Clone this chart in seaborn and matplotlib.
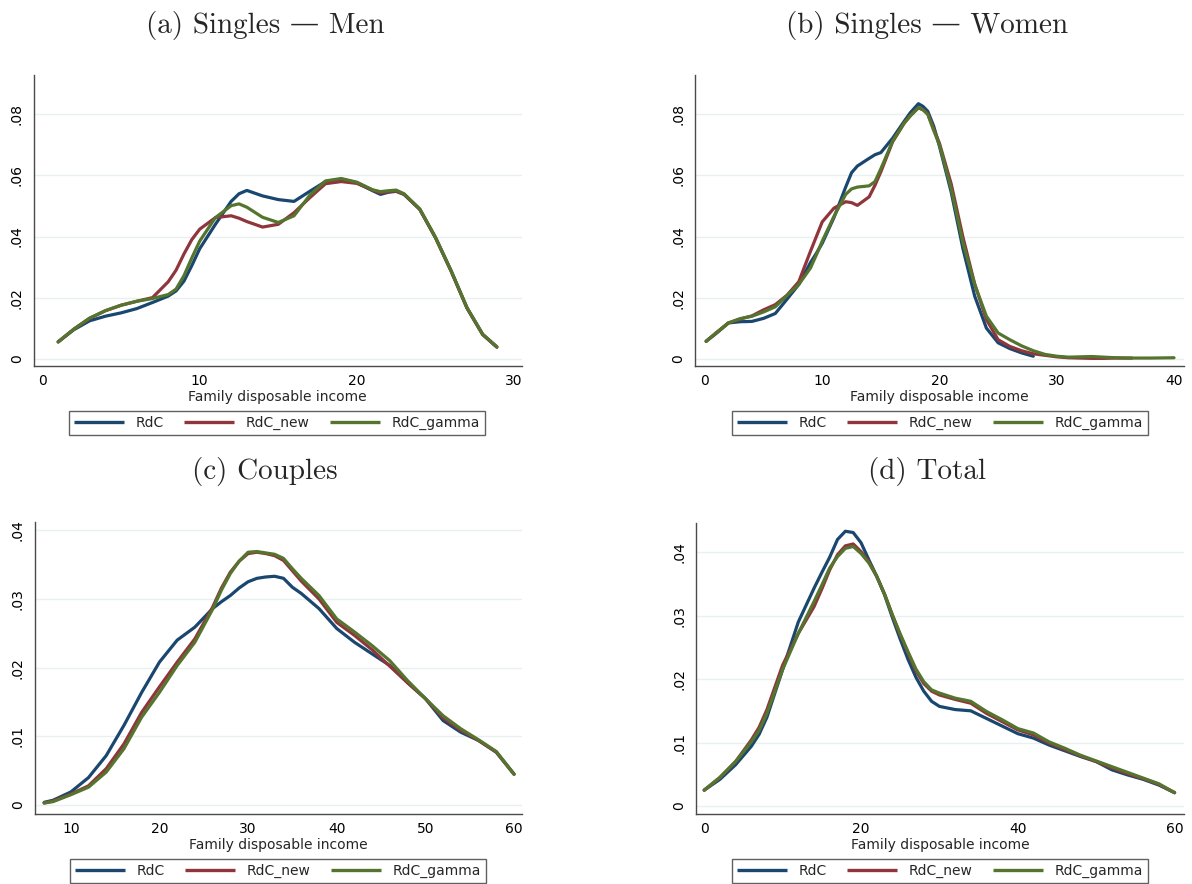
import numpy as np
import pandas as pd
import matplotlib
matplotlib.use("Agg")
import matplotlib.pyplot as plt
import seaborn as sns

# ---------------------------------------------------------------- data
series_names = ["RdC", "RdC_new", "RdC_gamma"]
series_colors = ["#1a476f", "#90353b", "#55752f"]

# (a) Singles - Men
x_a = [1, 2, 3, 4, 5, 6, 7, 8, 8.5, 9, 9.5, 10, 11, 12, 12.5, 13, 14, 15, 16, 17,
       18, 19, 20, 21, 21.5, 22, 22.5, 23, 24, 25, 26, 27, 28, 28.9]
rdc_a = [.0055, .0095, .0124, .0139, .0150, .0164, .0184, .0205, .0222, .0254, .0305,
         .0360, .0440, .0515, .0540, .0551, .0533, .0521, .0515, .0548, .0580, .0588,
         .0576, .0550, .0538, .0545, .0548, .0538, .0489, .0396, .0286, .0166, .0079, .0038]
new_a = [.0055, .0097, .0132, .0157, .0175, .0188, .0200, .0252, .0290, .0343, .0390,
         .0424, .0462, .0468, .0460, .0449, .0431, .0440, .0478, .0527, .0573, .0580,
         .0574, .0552, .0543, .0547, .0549, .0538, .0489, .0396, .0286, .0166, .0079, .0038]
gam_a = [.0055, .0097, .0133, .0157, .0175, .0188, .0197, .0210, .0228, .0272, .0330,
         .0385, .0462, .0501, .0507, .0496, .0463, .0446, .0468, .0535, .0582, .0590,
         .0578, .0553, .0547, .0550, .0552, .0540, .0490, .0397, .0287, .0167, .0080, .0039]

# (b) Singles - Women
x_b_rdc = [0.1, 1, 2, 3, 4, 5, 6, 7, 8, 9, 9.5, 10, 11, 12, 12.5, 13, 14, 14.5, 15, 16,
           17, 17.5, 18.2, 18.6, 19, 19.5, 20, 21, 22, 23, 24, 25, 26, 27, 28]
rdc_b = [.0057, .0084, .0117, .0121, .0122, .0132, .0148, .0195, .0243, .0315, .0345,
         .0378, .0462, .0562, .0609, .0631, .0656, .0668, .0675, .0722, .0778, .0805,
         .0835, .0826, .0810, .0762, .0695, .0545, .0360, .0205, .0100, .0052, .0033,
         .0019, .0008]
x_b_new = [0.1, 1, 2, 3, 4, 5, 6, 7, 8, 9, 9.5, 10, 11, 12, 12.5, 13, 14, 14.5, 15, 16,
           17, 17.5, 18.2, 18.6, 19, 19.5, 20, 21, 22, 23, 24, 25, 26, 27, 28, 29, 30,
           31, 32, 33, 34, 35, 36.4]
new_b = [.0057, .0086, .0117, .0130, .0140, .0160, .0177, .0208, .0252, .0352, .0400,
         .0448, .0493, .0514, .0511, .0502, .0530, .0568, .0612, .0710, .0772, .0795,
         .0822, .0815, .0802, .0752, .0705, .0572, .0398, .0245, .0128, .0062, .0040,
         .0026, .0016, .0011, .0006, .0003, .0002, .0001, .0001, .0002, .0002]
x_b_gam = [0.1, 1, 2, 3, 4, 5, 6, 7, 8, 9, 9.5, 10, 11, 12, 12.5, 13, 14, 14.5, 15, 16,
           17, 17.5, 18.2, 18.6, 19, 19.5, 20, 21, 22, 23, 24, 25, 26, 27, 28, 29, 30,
           31, 32, 33, 34, 35, 36, 38, 40]
gam_b = [.0057, .0086, .0117, .0131, .0139, .0153, .0170, .0207, .0243, .0297, .0340,
         .0385, .0466, .0538, .0556, .0562, .0566, .0580, .0622, .0712, .0772, .0795,
         .0822, .0815, .0800, .0748, .0700, .0556, .0380, .0243, .0139, .0084, .0062,
         .0042, .0026, .0014, .0008, .0005, .0006, .0007, .0005, .0003, .0002, .0002,
         .0003]

# (c) Couples
x_c = [7, 8, 10, 12, 14, 16, 18, 20, 22, 24, 26, 27, 28, 29, 30, 31, 32, 33, 34, 35,
       36, 38, 40, 42, 44, 46, 48, 50, 52, 54, 56, 58, 60]
rdc_c = [.0004, .0007, .0019, .0040, .0072, .0116, .0164, .0208, .0240, .0259, .0286,
         .0296, .0305, .0316, .0325, .0330, .0332, .0333, .0330, .0317, .0308, .0286,
         .0257, .0237, .0220, .0203, .0178, .0155, .0123, .0106, .0094, .0077, .0045]
new_c = [.0003, .0006, .0016, .0028, .0053, .0089, .0135, .0172, .0208, .0242, .0288,
         .0316, .0339, .0355, .0366, .0368, .0366, .0363, .0356, .0341, .0326, .0300,
         .0266, .0247, .0226, .0202, .0178, .0155, .0127, .0109, .0094, .0077, .0045]
gam_c = [.0003, .0005, .0015, .0026, .0048, .0082, .0128, .0164, .0203, .0237, .0285,
         .0313, .0337, .0355, .0368, .0369, .0367, .0365, .0359, .0344, .0330, .0305,
         .0271, .0252, .0232, .0210, .0181, .0155, .0130, .0111, .0095, .0078, .0045]

# (d) Total
x_d = [0, 2, 4, 6, 7, 8, 10, 12, 14, 15, 16, 17, 18, 19, 20, 21, 22, 23, 24, 25, 26,
       27, 28, 29, 30, 32, 34, 36, 38, 40, 42, 44, 46, 48, 50, 52, 54, 56, 58, 60]
rdc_d = [.0025, .0042, .0065, .0094, .0113, .0140, .0215, .0290, .0343, .0368, .0392,
         .0420, .0433, .0431, .0415, .0388, .0362, .0333, .0297, .0263, .0231, .0203,
         .0181, .0165, .0157, .0152, .0150, .0138, .0126, .0114, .0107, .0096, .0087,
         .0078, .0070, .0057, .0049, .0042, .0033, .0021]
new_d = [.0025, .0045, .0070, .0104, .0124, .0152, .0222, .0272, .0314, .0342, .0372,
         .0396, .0410, .0413, .0401, .0385, .0362, .0334, .0301, .0270, .0241, .0213,
         .0193, .0181, .0175, .0168, .0162, .0146, .0133, .0120, .0112, .0099, .0089,
         .0079, .0070, .0060, .0051, .0043, .0034, .0021]
gam_d = [.0025, .0045, .0070, .0101, .0119, .0146, .0215, .0272, .0322, .0348, .0375,
         .0393, .0406, .0409, .0398, .0383, .0362, .0334, .0301, .0271, .0243, .0216,
         .0196, .0183, .0178, .0170, .0165, .0149, .0136, .0122, .0115, .0101, .0091,
         .0080, .0071, .0062, .0053, .0044, .0035, .0021]

titles = ["(a) Singles \u2014 Men", "(b) Singles \u2014 Women", "(c) Couples", "(d) Total"]
xticks_a = [0, 10, 20, 30]
xticks_b = [0, 10, 20, 30, 40]
xticks_c = [10, 20, 30, 40, 50, 60]
xticks_d = [0, 20, 40, 60]
yticks_ab = [0, .02, .04, .06, .08]
yticks_cd = [0, .01, .02, .03, .04]
xlabel = "Family disposable income"

# ---------------------------------------------------------------- style
sns.set_style("white")
plt.rcParams["font.family"] = ["DejaVu Sans"]
W, H = 1192, 884
fig = plt.figure(figsize=(W / 100, H / 100), dpi=100)
axis_col = "#4a4a4a"


def px_axes(left, top, right, bottom):
    return fig.add_axes([left / W, 1 - bottom / H, (right - left) / W, (bottom - top) / H])


def frame(x_list, y_list):
    parts = []
    for name, xs, ys in zip(series_names, x_list, y_list):
        parts.append(pd.DataFrame({"income": xs, "density": ys, "series": name}))
    return pd.concat(parts, ignore_index=True)


def ylab(v):
    if v == 0:
        return "0"
    return ("%.2f" % v)[1:]


panels = [
    dict(box=(33.5, 75, 522, 366), xs=[x_a, x_a, x_a], ys=[rdc_a, new_a, gam_a],
         xlim=(-0.57, 30.5), ylim=(-0.0024, 0.0929), xt=xticks_a, yt=yticks_ab,
         title=titles[0], tpos=(265, 25), leg=(277, 411)),
    dict(box=(695, 75, 1184, 366), xs=[x_b_rdc, x_b_new, x_b_gam], ys=[rdc_b, new_b, gam_b],
         xlim=(-0.85, 40.85), ylim=(-0.0024, 0.0929), xt=xticks_b, yt=yticks_ab,
         title=titles[1], tpos=(927, 25), leg=(940, 411)),
    dict(box=(34.5, 522, 522, 814), xs=[x_c, x_c, x_c], ys=[rdc_c, new_c, gam_c],
         xlim=(5.91, 60.9), ylim=(-0.0013, 0.0412), xt=xticks_c, yt=yticks_cd,
         title=titles[2], tpos=(265, 472), leg=(278, 859)),
    dict(box=(696, 523, 1184, 814), xs=[x_d, x_d, x_d], ys=[rdc_d, new_d, gam_d],
         xlim=(-1.05, 61.2), ylim=(-0.00126, 0.0446), xt=xticks_d, yt=yticks_cd,
         title=titles[3], tpos=(927, 472), leg=(940, 859)),
]

for p in panels:
    ax = px_axes(*p["box"])
    df = frame(p["xs"], p["ys"])
    sns.lineplot(data=df, x="income", y="density", hue="series", hue_order=series_names,
                 palette=series_colors, linewidth=2.3, sort=False, estimator=None,
                 legend=False, ax=ax, solid_joinstyle="round", solid_capstyle="round")
    ax.set_xlim(*p["xlim"])
    ax.set_ylim(*p["ylim"])
    ax.set_xticks(p["xt"])
    ax.set_yticks(p["yt"])
    ax.set_yticklabels([ylab(v) for v in p["yt"]])
    ax.set_xlabel(xlabel, fontsize=10, labelpad=1)
    ax.set_ylabel("")
    for s in ["top", "right"]:
        ax.spines[s].set_visible(False)
    for s in ["left", "bottom"]:
        ax.spines[s].set_color(axis_col)
        ax.spines[s].set_linewidth(1.0)
    ax.yaxis.grid(True, color="#e8f0f2", linewidth=1.0)
    ax.xaxis.grid(False)
    ax.set_axisbelow(True)
    ax.tick_params(axis="both", direction="out", length=4.5, width=1.0, color=axis_col,
                   labelsize=10, pad=1.5, labelcolor="black")
    ax.tick_params(axis="y", labelrotation=90, pad=2.5)
    for lbl in ax.get_yticklabels():
        lbl.set_va("center")
    ax.set_facecolor("white")

    handles = ax.get_lines()[:3]
    lx, ly = p["leg"]
    leg = fig.legend(handles, series_names, loc="upper center",
                     bbox_to_anchor=(lx / W, 1 - ly / H), ncol=3, fontsize=10,
                     frameon=True, fancybox=False, handlelength=3.6, handletextpad=0.8,
                     columnspacing=1.5, borderpad=0.35, borderaxespad=0)
    leg.get_frame().set_edgecolor("#3a3a3a")
    leg.get_frame().set_linewidth(1.0)
    for ln in leg.get_lines():
        ln.set_linewidth(2.4)
        ln.set_solid_capstyle("butt")

    fig.text(p["tpos"][0] / W, 1 - p["tpos"][1] / H, p["title"], ha="center", va="center",
             fontsize=21, family=["cmr10", "DejaVu Serif"])

fig.savefig("out.png", dpi=100, facecolor="white")
